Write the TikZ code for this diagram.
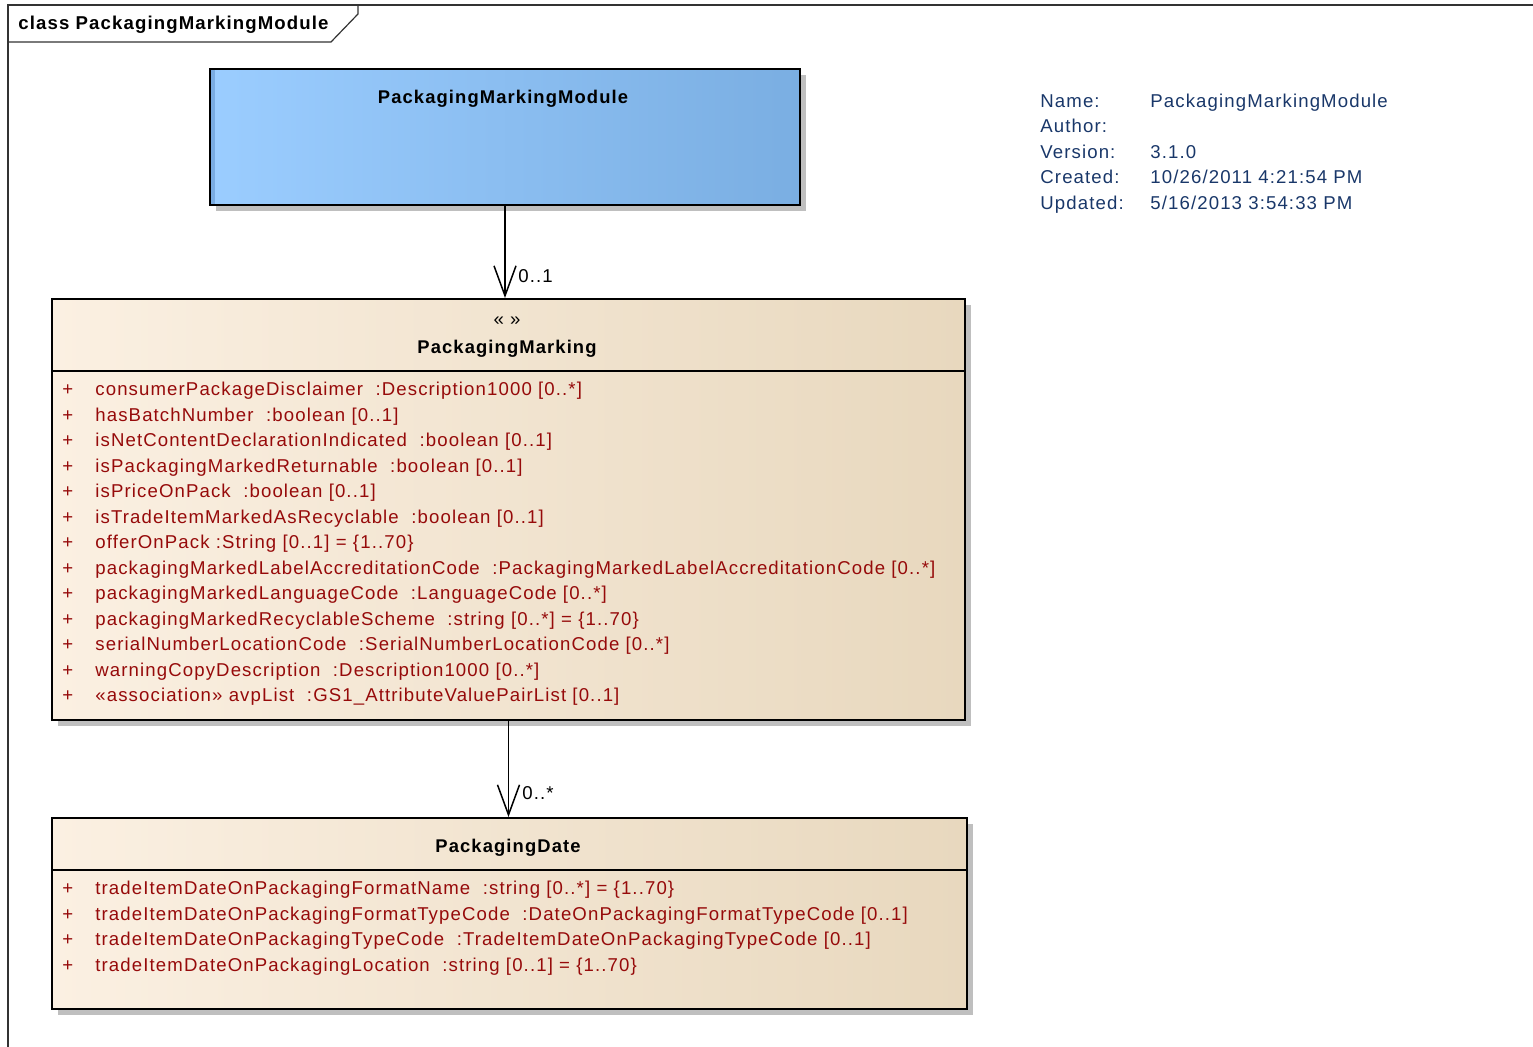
\documentclass[tikz,border=0pt]{standalone}
\usepackage{fontspec}
\setmainfont{Liberation Sans}[LetterSpace=6]
\usetikzlibrary{positioning,arrows.meta,shadows}

\definecolor{attrred}{RGB}{150,10,10}
\definecolor{infoblue}{RGB}{25,55,105}
\definecolor{modleft}{RGB}{155,205,255}
\definecolor{modright}{RGB}{122,174,226}
\definecolor{modedge}{RGB}{122,172,226}
\definecolor{clsleft}{RGB}{251,240,226}
\definecolor{clsright}{RGB}{232,216,190}

\begin{document}
\begin{tikzpicture}[
        x=0.5pt, y=-0.5pt,
        font=\fontsize{9.3}{11}\selectfont,
        >={Straight Barb[length=15pt, width=11pt]},
        shadowed/.style={drop shadow={shadow xshift=3pt, shadow yshift=-3pt,
                         fill=black!25, opacity=1}},
        modbox/.style={rectangle, draw, line width=1pt, shadowed, anchor=north west,
                       inner sep=0pt, left color=modleft, right color=modright,
                       path picture={\fill[modedge] (path picture bounding box.north west)
                           rectangle ([xshift=2.5pt]path picture bounding box.south west);}},
        clsbox/.style={rectangle, draw, line width=1pt, shadowed, anchor=north west,
                       inner sep=0pt, left color=clsleft, right color=clsright},
        title/.style={font=\fontsize{9.2}{11}\selectfont\bfseries, anchor=base, inner sep=0pt},
        attr/.style={text=attrred, anchor=base west, inner sep=0pt},
        mult/.style={anchor=base west, inner sep=0pt},
        info/.style={text=infoblue, anchor=base west, inner sep=0pt},
        assoc/.style={->, line width=0.75pt},
    ]
        \useasboundingbox (0,0) rectangle (1533,1047);

        % diagram frame
        \draw[line width=0.6pt, black!80] (8,1047) -- (8,5) -- (1533,5);
        \draw[line width=0.6pt, black!80] (8,42) -- (331,42) -- (358,14) -- (358,5);
        \node[font=\fontsize{9.3}{11}\selectfont\bfseries, anchor=base west, inner sep=0pt]
            (frametitle) at (18,29.5) {class PackagingMarkingModule};

        % module
        \node[modbox, minimum width=295pt, minimum height=68pt] (module) at (209,68) {};
        \node[title] (modname) at (503,103.5) {PackagingMarkingModule};

        % PackagingMarking
        \node[clsbox, minimum width=456.5pt, minimum height=210.5pt] (marking) at (51,298) {};
        \node[anchor=base, inner sep=0pt] (stereo) at (507,326) {« »};
        \node[title] (markname) at (507,353.5) {PackagingMarking};
        \coordinate (msep) at (0,371);
        \draw[line width=1pt] (marking.west |- msep) -- (marking.east |- msep);
        \foreach \txt [count=\i] in {
            {consumerPackageDisclaimer~ :Description1000 [0..*]},
            {hasBatchNumber~ :boolean [0..1]},
            {isNetContentDeclarationIndicated~ :boolean [0..1]},
            {isPackagingMarkedReturnable~ :boolean [0..1]},
            {isPriceOnPack~ :boolean [0..1]},
            {isTradeItemMarkedAsRecyclable~ :boolean [0..1]},
            {offerOnPack :String [0..1] = \{1..70\}},
            {packagingMarkedLabelAccreditationCode~ :PackagingMarkedLabelAccreditationCode [0..*]},
            {packagingMarkedLanguageCode~ :LanguageCode [0..*]},
            {packagingMarkedRecyclableScheme~ :string [0..*] = \{1..70\}},
            {serialNumberLocationCode~ :SerialNumberLocationCode [0..*]},
            {warningCopyDescription~ :Description1000 [0..*]},
            {«association» avpList~ :GS1\_AttributeValuePairList [0..1]}}
        {
            \node[attr] (mplus\i) at (62,{396+25.5*(\i-1)}) {+};
            \node[attr] (mattr\i) at (95,{396+25.5*(\i-1)}) {\txt};
        }

        % PackagingDate
        \node[clsbox, minimum width=457.5pt, minimum height=95.5pt] (date) at (51,817) {};
        \node[title] (datename) at (508,852.5) {PackagingDate};
        \coordinate (dsep) at (0,870);
        \draw[line width=1pt] (date.west |- dsep) -- (date.east |- dsep);
        \foreach \txt [count=\i] in {
            {tradeItemDateOnPackagingFormatName~ :string [0..*] = \{1..70\}},
            {tradeItemDateOnPackagingFormatTypeCode~ :DateOnPackagingFormatTypeCode [0..1]},
            {tradeItemDateOnPackagingTypeCode~ :TradeItemDateOnPackagingTypeCode [0..1]},
            {tradeItemDateOnPackagingLocation~ :string [0..1] = \{1..70\}}}
        {
            \node[attr] (dplus\i) at (62,{895+25.5*(\i-1)}) {+};
            \node[attr] (dattr\i) at (95,{895+25.5*(\i-1)}) {\txt};
        }

        % associations
        \draw[assoc] (module.south) -- (module.south |- marking.north);
        \node[mult] (mult1) at (518,282.5) {0..1};
        \draw[assoc] (marking.south) -- (marking.south |- date.north);
        \node[mult] (mult2) at (522,800) {0..*};

        % diagram properties
        \node[info] (kname)  at (1040,108) {Name:};
        \node[info] (kauth)  at (1040,133) {Author:};
        \node[info] (kver)   at (1040,158.5) {Version:};
        \node[info] (kcre)   at (1040,184) {Created:};
        \node[info] (kupd)   at (1040,209.5) {Updated:};
        \node[info] (vname)  at (1150,108) {PackagingMarkingModule};
        \node[info] (vver)   at (1150,158.5) {3.1.0};
        \node[info] (vcre)   at (1150,184) {10/26/2011 4:21:54 PM};
        \node[info] (vupd)   at (1150,209.5) {5/16/2013 3:54:33 PM};
    \end{tikzpicture}
\end{document}
